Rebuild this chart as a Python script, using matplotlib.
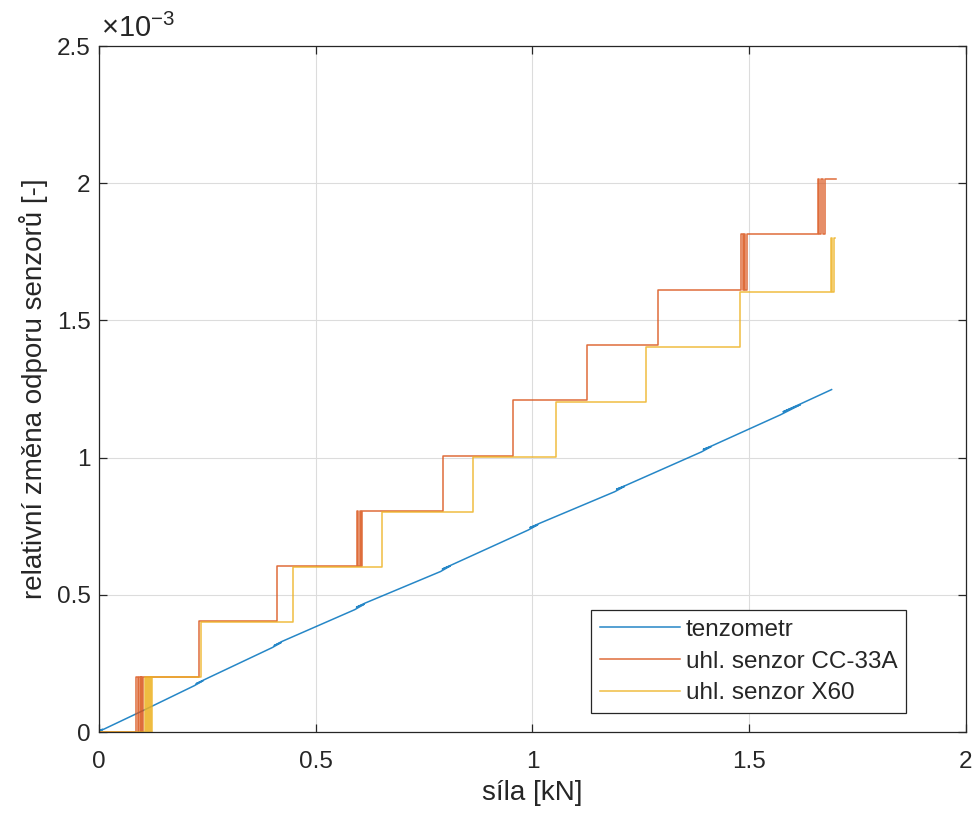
import matplotlib
matplotlib.use('Agg')
import matplotlib.pyplot as plt

plt.rcParams['font.family'] = ['Liberation Sans', 'DejaVu Sans']
plt.rcParams['mathtext.fontset'] = 'custom'
plt.rcParams['mathtext.rm'] = 'Liberation Sans'
plt.rcParams['mathtext.it'] = 'Liberation Sans'

# data, relative resistance change in units of 1e-3
blue_force = [0, 0.008, 0.001, 0.012, 0.100, 0.220, 0.240, 0.224, 0.242, 0.400, 0.420, 0.404, 0.422,
              0.590, 0.612, 0.594, 0.614, 0.788, 0.810, 0.792, 0.812, 0.990, 1.012, 0.994, 1.014,
              1.190, 1.212, 1.194, 1.214, 1.390, 1.412, 1.394, 1.414, 1.572, 1.618, 1.578, 1.620, 1.690]
blue_value = [0, 0.010, 0.004, 0.011, 0.077, 0.169, 0.187, 0.176, 0.190, 0.308, 0.326, 0.315, 0.330,
              0.446, 0.466, 0.455, 0.470, 0.585, 0.605, 0.594, 0.608, 0.736, 0.755, 0.745, 0.759,
              0.876, 0.895, 0.885, 0.898, 1.021, 1.040, 1.030, 1.043, 1.156, 1.193, 1.167, 1.197, 1.248]

cc33_force = [0, 0.086, 0.090, 0.093, 0.096, 0.098, 0.100, 0.102, 0.231, 0.410,
              0.595, 0.598, 0.601, 0.604, 0.607, 0.794, 0.955, 1.126, 1.289,
              1.482, 1.485, 1.488, 1.491, 1.494, 1.658, 1.662, 1.666, 1.670, 1.674, 1.700]
cc33_value = [0, 0.2015, 0, 0.2015, 0, 0.2015, 0, 0.2015, 0.403, 0.6045,
              0.806, 0.6045, 0.806, 0.6045, 0.806, 1.0075, 1.209, 1.4105, 1.612,
              1.8135, 1.612, 1.8135, 1.612, 1.8135, 2.015, 1.8135, 2.015, 1.8135, 2.015, 2.015]

x60_force = [0, 0.107, 0.109, 0.111, 0.113, 0.115, 0.117, 0.119, 0.121, 0.123, 0.124,
             0.236, 0.447, 0.653, 0.863, 1.054, 1.262, 1.479, 1.689, 1.692, 1.695, 1.697]
x60_value = [0, 0.2005, 0, 0.2005, 0, 0.2005, 0, 0.2005, 0, 0.2005, 0.2005,
             0.401, 0.6005, 0.801, 1.0015, 1.2015, 1.4025, 1.6035, 1.80, 1.6035, 1.80, 1.80]

labels = ['tenzometr', 'uhl. senzor CC-33A', 'uhl. senzor X60']
colors = ['#0072BD', '#D95319', '#EDB120']

fig = plt.figure(figsize=(9.79, 8.16), dpi=100)
ax = fig.add_axes([0.1011, 0.1029, 0.8856, 0.8407])

ax.plot(blue_force, blue_value, color=colors[0], lw=1.1, alpha=0.85, label=labels[0])
ax.step(cc33_force, cc33_value, where='post', color=colors[1], lw=1.1, alpha=0.85, label=labels[1])
ax.step(x60_force, x60_value, where='post', color=colors[2], lw=1.1, alpha=0.85, label=labels[2])

ax.set_xlim(0, 2)
ax.set_ylim(0, 2.5)
ax.set_xticks([0, 0.5, 1, 1.5, 2])
ax.set_xticklabels(['0', '0.5', '1', '1.5', '2'])
ax.set_yticks([0, 0.5, 1, 1.5, 2, 2.5])
ax.set_yticklabels(['0', '0.5', '1', '1.5', '2', '2.5'])

ax.grid(True, color='#dcdcdc', lw=0.8)
ax.set_axisbelow(True)
for s in ax.spines.values():
    s.set_color('#262626')
    s.set_linewidth(0.9)
ax.tick_params(direction='in', top=True, right=True, length=6, width=0.9,
               colors='#262626', labelsize=17.5)
ax.tick_params(axis='x', pad=14)
ax.tick_params(axis='y', pad=6)

ax.set_xlabel('síla [kN]', fontsize=20, color='#262626', labelpad=5)
ax.set_ylabel('relativní změna odporu senzorů [-]', fontsize=20, color='#262626', labelpad=6)
ax.text(0.002, 1.005, r'$\times\mathregular{10^{-3}}$', transform=ax.transAxes,
        fontsize=21, color='#262626', ha='left', va='bottom')

leg = ax.legend(loc='lower right', bbox_to_anchor=(0.931, 0.028), borderaxespad=0,
                fontsize=17.5, handlelength=3.3, handletextpad=0.25, labelspacing=0.4,
                fancybox=False, framealpha=1, edgecolor='#262626', borderpad=0.35)
leg.get_frame().set_linewidth(0.9)
for t in leg.get_texts():
    t.set_color('#262626')

plt.savefig('out.png', dpi=100)
